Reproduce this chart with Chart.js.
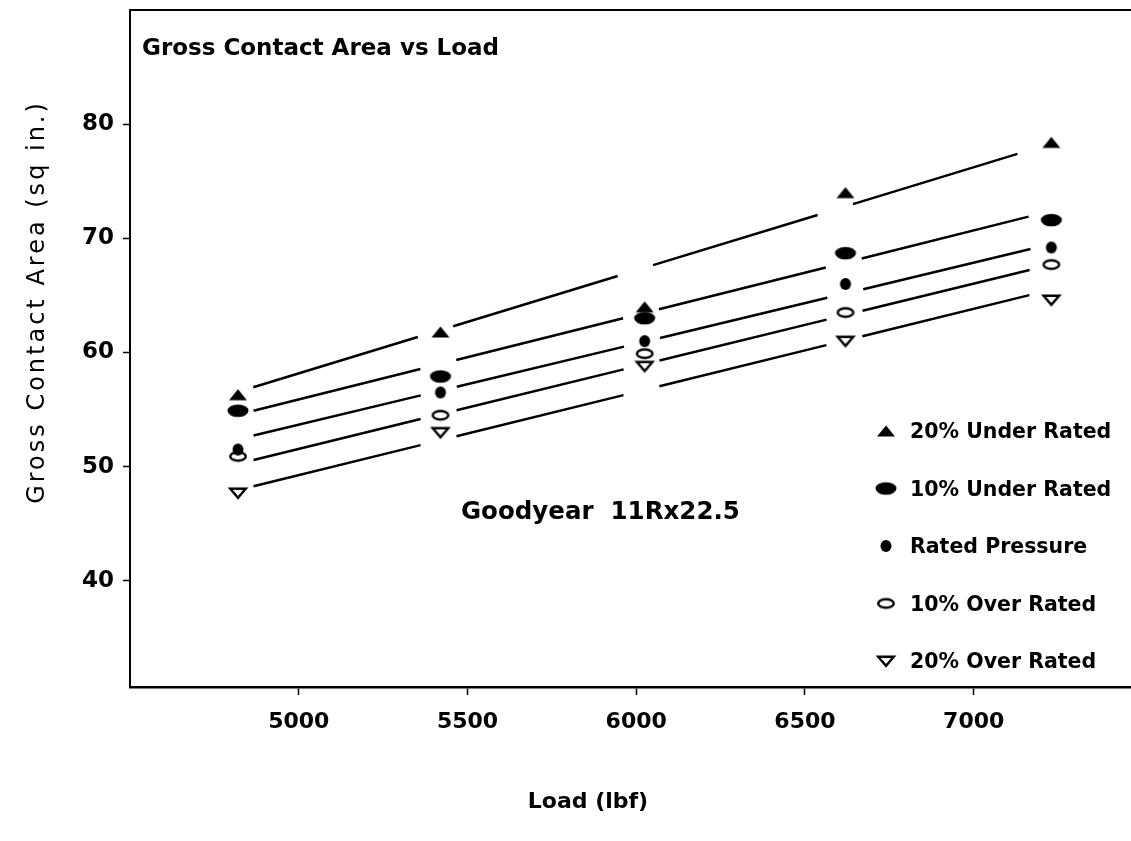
<!DOCTYPE html>
<html>
<head>
<meta charset="utf-8">
<title>Gross Contact Area vs Load</title>
<script src="https://cdn.jsdelivr.net/npm/chart.js@4.4.0/dist/chart.umd.min.js"></script>
<style>
  html, body { margin: 0; padding: 0; background: #fff; }
  canvas { display: block; }
</style>
</head>
<body>
<canvas id="areaChart" width="1131" height="841"></canvas>
<script>
// loads tested (lbf) and measured gross contact area (sq in.)
const loads = [4820, 5420, 6025, 6620, 7230];
const under20 = [56.3, 61.8, 64.0, 74.0, 78.4];
const under10 = [54.9, 57.9, 63.0, 68.7, 71.6];
const rated = [51.5, 56.5, 61.0, 66.0, 69.2];
const over10 = [50.9, 54.5, 59.9, 63.5, 67.7];
const over20 = [47.7, 53.0, 58.8, 61.0, 64.6];

// fitted lines, read at first and last load
const fitLoads = [4820, 7230];
const fitUnder20 = [56.55, 78.3];
const fitUnder10 = [54.55, 72.4];
const fitRated = [52.4, 69.5];
const fitOver10 = [50.25, 67.7];
const fitOver20 = [47.95, 65.5];

const seriesLabels = ['20% Under Rated', '10% Under Rated', 'Rated Pressure', '10% Over Rated', '20% Over Rated'];
const xTicks = [5000, 5500, 6000, 6500, 7000];
const yTicks = [40, 50, 60, 70, 80];

const chartTitle = 'Gross Contact Area vs Load';
const tireNote = 'Goodyear  11Rx22.5';
const xTitle = 'Load (lbf)';
const yTitle = 'Gross Contact Area (sq in.)';

// little canvases used as point styles (chart.js has no ellipse marker)
function makeMarker(kind) {
    const c = document.createElement('canvas');
    c.width = 24;
    c.height = 16;
    const g = c.getContext('2d');
    g.fillStyle = '#000';
    g.strokeStyle = '#000';
    g.lineWidth = 2.4;
    const cx = 12, cy = 8;
    if (kind === 'triUp') {
        g.beginPath();
        g.moveTo(cx - 9, cy + 5.5);
        g.lineTo(cx + 9, cy + 5.5);
        g.lineTo(cx, cy - 5.5);
        g.closePath();
        g.fill();
    } else if (kind === 'ovalFull') {
        g.beginPath();
        g.ellipse(cx, cy, 10.5, 6.3, 0, 0, Math.PI * 2);
        g.fill();
    } else if (kind === 'dot') {
        g.beginPath();
        g.ellipse(cx, cy, 5.5, 6, 0, 0, Math.PI * 2);
        g.fill();
    } else if (kind === 'ovalOpen') {
        g.beginPath();
        g.ellipse(cx, cy, 7.8, 4.3, 0, 0, Math.PI * 2);
        g.stroke();
    } else if (kind === 'triDown') {
        g.beginPath();
        g.moveTo(cx - 7.8, cy - 4.3);
        g.lineTo(cx + 7.8, cy - 4.3);
        g.lineTo(cx, cy + 4.8);
        g.closePath();
        g.stroke();
    }
    return c;
}

const markers = ['triUp', 'ovalFull', 'dot', 'ovalOpen', 'triDown'].map(makeMarker);

function toPoints(xs, ys) {
    return xs.map((x, i) => ({ x: x, y: ys[i] }));
}

const pointSets = [under20, under10, rated, over10, over20];
const fitSets = [fitUnder20, fitUnder10, fitRated, fitOver10, fitOver20];

const datasets = [];
pointSets.forEach((vals, i) => {
    datasets.push({
        label: seriesLabels[i],
        data: toPoints(loads, vals),
        showLine: false,
        pointStyle: markers[i],
        pointRadius: 8,
        order: 0
    });
});
fitSets.forEach((vals, i) => {
    datasets.push({
        label: 'fit ' + seriesLabels[i],
        type: 'line',
        data: toPoints(fitLoads, vals),
        borderColor: '#000',
        borderWidth: 2.5,
        borderDash: [172, 37],
        borderDashOffset: 193,
        pointRadius: 0,
        fill: false,
        tension: 0,
        order: 1
    });
});

// texts + legend drawn by hand so they sit where the original has them
const textPlugin = {
    id: 'textPlugin',
    afterDraw(chart) {
        const ctx = chart.ctx;
        const area = chart.chartArea;
        ctx.save();
        ctx.fillStyle = '#000';
        ctx.strokeStyle = '#000';

        // top frame line
        ctx.lineWidth = 2;
        ctx.beginPath();
        ctx.moveTo(area.left, area.top);
        ctx.lineTo(area.right, area.top);
        ctx.stroke();

        ctx.textBaseline = 'alphabetic';
        ctx.textAlign = 'left';
        ctx.font = 'bold 23px "DejaVu Sans"';
        ctx.fillText(chartTitle, 142, 55);

        ctx.font = 'bold 24.5px "DejaVu Sans"';
        ctx.fillText(tireNote, 461, 519);

        ctx.textAlign = 'center';
        ctx.font = 'bold 22px "DejaVu Sans"';
        ctx.fillText(xTitle, 588, 808);

        ctx.save();
        ctx.translate(44, 302);
        ctx.rotate(-Math.PI / 2);
        ctx.font = '24px "DejaVu Sans"';
        ctx.letterSpacing = '3px';
        ctx.fillText(yTitle, 0, 0);
        ctx.restore();

        // legend
        ctx.textAlign = 'left';
        ctx.font = 'bold 20.5px "DejaVu Sans"';
        for (let i = 0; i < seriesLabels.length; i++) {
            const base = 438 + i * 57.5;
            const img = markers[i];
            ctx.drawImage(img, 886 - img.width / 2, base - 7 - img.height / 2);
            ctx.fillText(seriesLabels[i], 910, base);
        }
        ctx.restore();
    }
};

const tickFont = { family: 'DejaVu Sans', size: 22, weight: 'bold' };

// no extra room for edge labels, the frame sits at fixed pixels
function noEdgePadding(s) {
    s.paddingTop = 0;
    s.paddingBottom = 0;
    s.paddingLeft = 0;
    s.paddingRight = 0;
}

new Chart(document.getElementById('areaChart').getContext('2d'), {
    type: 'scatter',
    data: { datasets: datasets },
    options: {
        responsive: false,
        animation: false,
        devicePixelRatio: 1,
        layout: { autoPadding: false, padding: { top: 10, right: 0, bottom: 0, left: 0 } },
        plugins: {
            legend: { display: false },
            tooltip: { enabled: false }
        },
        scales: {
            x: {
                type: 'linear',
                min: 4500,
                max: 7466,
                afterBuildTicks: s => { s.ticks = xTicks.map(v => ({ value: v })); },
                afterFit: s => { s.height = 154; noEdgePadding(s); },
                grid: { drawOnChartArea: false, tickLength: 8, tickColor: '#000', tickWidth: 1.5 },
                border: { display: true, color: '#000', width: 2.5 },
                ticks: { color: '#000', font: tickFont, padding: 14, maxRotation: 0, callback: v => String(v) }
            },
            y: {
                type: 'linear',
                min: 30.7,
                max: 90,
                afterBuildTicks: s => { s.ticks = yTicks.map(v => ({ value: v })); },
                afterFit: s => { s.width = 130; noEdgePadding(s); },
                grid: { drawOnChartArea: false, tickLength: 7, tickColor: '#000', tickWidth: 1.5 },
                border: { display: true, color: '#000', width: 2 },
                ticks: { color: '#000', font: { family: 'DejaVu Sans', size: 23, weight: 'bold' }, padding: 9, callback: v => String(v) }
            }
        }
    },
    plugins: [textPlugin]
});
</script>
</body>
</html>
